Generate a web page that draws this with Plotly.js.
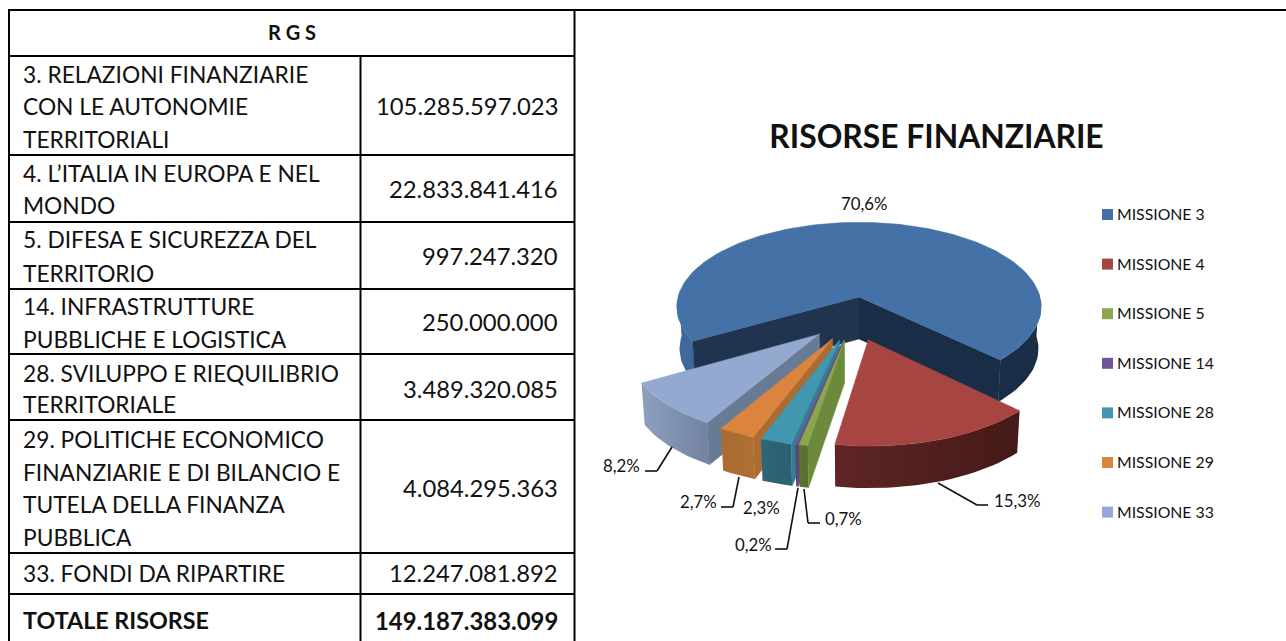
<!DOCTYPE html>
<html><head><meta charset="utf-8">
<script src="https://cdn.plot.ly/plotly-3.0.1.min.js"></script>
<style>html,body{margin:0;padding:0;background:#fff}#c{width:1286px;height:641px}</style>
</head><body><div id="c"></div>
<script>
// ---- data ----
const headerTitle = 'R G S';
const chartTitle = 'RISORSE FINANZIARIE';
const rowLines = [
  ['3. RELAZIONI FINANZIARIE','CON LE AUTONOMIE','TERRITORIALI'],
  ['4. L’ITALIA IN EUROPA E NEL','MONDO'],
  ['5. DIFESA E SICUREZZA DEL','TERRITORIO'],
  ['14. INFRASTRUTTURE','PUBBLICHE E LOGISTICA'],
  ['28. SVILUPPO E RIEQUILIBRIO','TERRITORIALE'],
  ['29. POLITICHE ECONOMICO','FINANZIARIE E DI BILANCIO E','TUTELA DELLA FINANZA','PUBBLICA'],
  ['33. FONDI DA RIPARTIRE']
];
const amounts = [105285597023, 22833841416, 997247320, 250000000, 3489320085, 4084295363, 12247081892];
const amountLabels = ['105.285.597.023','22.833.841.416','997.247.320','250.000.000','3.489.320.085','4.084.295.363','12.247.081.892'];
const totalLabel = 'TOTALE RISORSE';
const totalValue = '149.187.383.099';
const missions = ['MISSIONE 3','MISSIONE 4','MISSIONE 5','MISSIONE 14','MISSIONE 28','MISSIONE 29','MISSIONE 33'];
const shareLabels = ['70,6%','15,3%','0,7%','0,2%','2,3%','2,7%','8,2%'];

// ---- styles ----
const FONT = 'Lato, Carlito, "Open Sans", sans-serif';
const INK = '#111111';
const topColors  = ['#4472A6','#A64542','#8AA64E','#6F5596','#4097AF','#DB843D','#93A9CF'];
const sideColors = ['#20344F','#451A18','#6C8A3C','#5B4479','#337E92','#AC6B30','#697A95'];
const wallScales = [
  ['#3F699C','#3F699C'],
  ['#5E2624','#451A18'],
  ['#5C7530','#54702C'],
  ['#5B4479','#5B4479'],
  ['#2E6675','#2B6070'],
  ['#A96C31','#B06F32'],
  ['#8F9FBF','#7282A0']
];

// ---- 3D pie geometry ----
const CX = 859, CY = 297, R = 181, DEPTH = 42, PERSP = 0.115, TILT = 0.46, EXPLODE = 0.25, START = 240, BOTTOM_X = 0.985;
const rad = d => d * Math.PI / 180;
const total = amounts.reduce((a,b)=>a+b,0);
let cum = START;
const slices = amounts.map(v => { const a0 = cum; cum += v / total * 360; return {a0, a1: cum, mid:(a0 + cum)/2}; });
const cxz = [-EXPLODE*Math.sin(rad(slices[0].mid)), -EXPLODE*Math.cos(rad(slices[0].mid))];
function apexOf(s){ return [cxz[0]+EXPLODE*Math.sin(rad(s.mid)), cxz[1]+EXPLODE*Math.cos(rad(s.mid))]; }
function proj(X, Z, low){
  const k = 1/(1+PERSP*Z);
  const x = X*k*R*(low?BOTTOM_X:1);
  return [CX + x, CY - TILT*Z*k*R + (low?DEPTH:0)];
}
function rim(s, th, low){
  const a = apexOf(s);
  return proj(a[0]+Math.sin(rad(th)), a[1]+Math.cos(rad(th)), low);
}
function arc(s, t0, t1, low){
  const n = Math.max(2, Math.ceil(Math.abs(t1-t0)/2)), out=[];
  for(let i=0;i<=n;i++) out.push(rim(s, t0+(t1-t0)*i/n, low));
  return out;
}
function poly(pts, color, name, grad){
  const t = {type:'scatter', mode:'lines', x:pts.map(p=>p[0]).concat(pts[0][0]), y:pts.map(p=>p[1]).concat(pts[0][1]),
    fill:'toself', line:{width:0.5, color:grad?grad[0]:color}, name, hoverinfo:'name', showlegend:false};
  if(grad){ t.fillgradient = {type:'horizontal', colorscale:[[0,grad[0]],[1,grad[1]]]}; t.line = {width:0}; }
  else t.fillcolor = color;
  return t;
}
function wall(s, t0, t1, grad, name){
  const pts = arc(s,t0,t1,false).concat(arc(s,t1,t0,true));
  return poly(pts, grad[0], name, grad);
}
function sideWall(s, th, color, name){
  const a = apexOf(s);
  return poly([proj(a[0],a[1],false), rim(s,th,false), rim(s,th,true), proj(a[0],a[1],true)], color, name);
}
function topFace(s, color, name){
  const a = apexOf(s);
  return poly([proj(a[0],a[1],false)].concat(arc(s,s.a0,s.a1,false)), color, name);
}
const traces = [];
// blue: back slice
const b = slices[0], bEnd = b.a1 - 360;
traces.push(wall(b, 240, 272, ['#3F699C','#3F699C'], missions[0]));
traces.push(wall(b, 88, bEnd, ['#1A2D47','#1A2D47'].slice(), missions[0]));
traces.push(sideWall(b, 240, '#20344F', missions[0]));
traces.push(sideWall(b, bEnd, '#1A2D47', missions[0]));
traces.push(topFace(b, topColors[0], missions[0]));
// exploded slices, far left to near
[6,5,4,3,2,1].forEach(i=>{
  const s = slices[i];
  traces.push(wall(s, s.a1, s.a0, wallScales[i], missions[i]));
  if(i!==1) traces.push(sideWall(s, s.a0, sideColors[i], missions[i]));
  traces.push(topFace(s, topColors[i], missions[i]));
});

// ---- legend swatches ----
const legendX = 1107.5, legendTop = 214.5, legendStep = 49.6;
missions.forEach((m,i)=>{
  traces.push({type:'scatter', mode:'markers', x:[legendX], y:[legendTop+i*legendStep], name:m, hoverinfo:'name', showlegend:false,
    marker:{symbol:'square', size:11, color:topColors[i], line:{width:0}}});
});

// ---- annotations ----
const annotations = [];
function txt(x,y,text,size,opt={}){
  annotations.push({x,y,xref:'x',yref:'y',text:opt.bold?'<b>'+text+'</b>':text,showarrow:false,
    xanchor:opt.anchor||'left',yanchor:'middle',font:{family:FONT,size,color:INK}});
}
const TS = 22.75, NS = 23.8;
const lineYs = [[74,106,139],[173,205],[239,273],[306,339],[373,404],[439,472,504,537],[573]];
const valueYs = [106,189,256,322,389,488,573];
rowLines.forEach((ls,i)=>{
  ls.forEach((l,j)=>txt(21,lineYs[i][j],l,TS));
  txt(560,valueYs[i],amountLabels[i],NS,{anchor:'right'});
});
txt(292,32,headerTitle,20,{anchor:'center',bold:true});
txt(21,620,totalLabel,23.3,{bold:true});
txt(560,620,totalValue,23.9,{anchor:'right',bold:true});
missions.forEach((m,i)=>txt(1115,legendTop-1+i*legendStep,m,15.8));
const labelPos = [[864,203],[1017,500],[843,518],[753,544],[761,507],[698,501],[621,465]];
shareLabels.forEach((l,i)=>txt(labelPos[i][0],labelPos[i][1],l,16.8,{anchor:'center'}));

// ---- table rules and leader lines ----
const shapes = [];
function seg(x0,y0,x1,y1,w,c){ shapes.push({type:'line',xref:'x',yref:'y',x0,y0,x1,y1,line:{color:c||'#000',width:w}}); }
const rowRules = [56,155,222,289,354,420,553,594];
seg(8,10,1286,10,2);
seg(9,10,9,641,2);
seg(574.5,10,574.5,641,2);
seg(360.5,56,360.5,641,2);
rowRules.forEach(y=>seg(8,y,575,y,2));
const leaders = [
  [[938,483],[977,505],[988,505]],
  [[672,447],[657,471],[645,471]],
  [[739,477],[733,507],[721,507]],
  [[798,488],[787,549],[775,549]],
  [[804,489],[808,523],[820,523]]
];
leaders.forEach(l=>{ for(let i=0;i<l.length-1;i++) seg(l[i][0],l[i][1],l[i+1][0],l[i+1][1],1.6,INK); });

const layout = {
  width:1286, height:641, margin:{l:0,r:0,t:0,b:0,pad:0}, paper_bgcolor:'#fff', plot_bgcolor:'#fff', showlegend:false,
  title:{text:'<b>'+chartTitle+'</b>', x:936.5/1286, y:1-137/641, xanchor:'center', yanchor:'middle', xref:'paper', yref:'paper', font:{family:FONT,size:31.8,color:INK}},
  xaxis:{range:[0,1286],visible:false,fixedrange:true},
  yaxis:{range:[641,0],visible:false,fixedrange:true},
  annotations, shapes
};
Plotly.newPlot('c',traces,layout,{staticPlot:true,displayModeBar:false});
</script>
</body></html>
